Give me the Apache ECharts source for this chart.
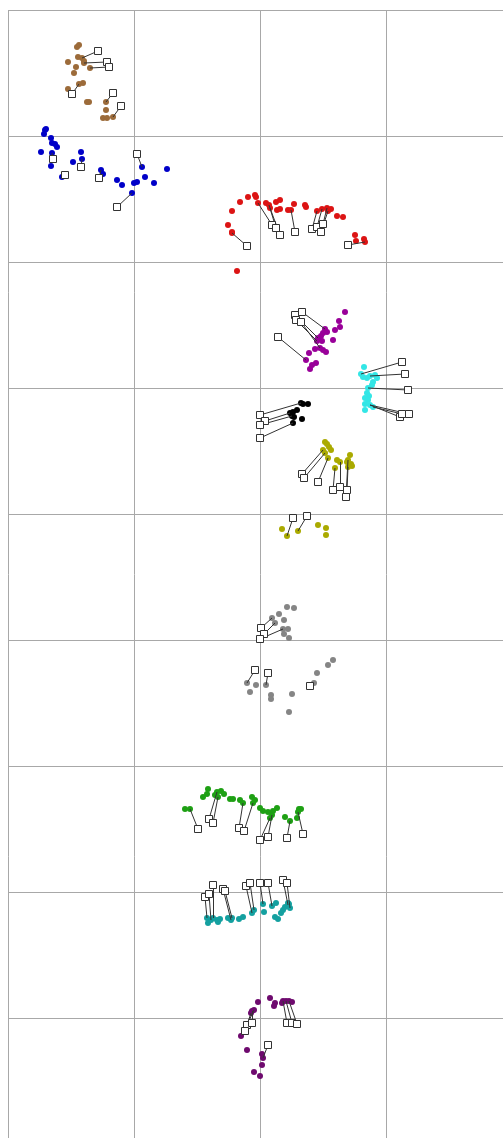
<!DOCTYPE html>
<html>
<head>
<meta charset="utf-8">
<script src="https://cdn.jsdelivr.net/npm/echarts@6/dist/echarts.min.js"></script>
<style>html,body{margin:0;padding:0;background:#fff}#main{width:503px;height:1138px}</style>
</head>
<body>
<div id="main"></div>
<script>
// Grid ticks (axis units: one cell = 126)
var xTicks = [0, 126, 252, 378, 504];
var yTicks = [0, 126, 252, 378, 504, 630, 756, 882, 1008, 1134];

// Points [x, y]; labels [x, y, index of linked point]
var brownPoints = [[69,37],[71,35],[70,47],[74,48],[76,51],[76,53],[60,52],[68,57],[82,58],[66,63],[75,73],[71,74],[60,79],[79,92],[81,92],[98,92],[98,100],[95,108],[99,108],[105,107]];
var brownLabels = [[90,41,3],[99,52,5],[101,57,8],[64,84,11],[105,83,15],[113,96,19]];

var bluePoints = [[37,120],[38,119],[36,124],[43,128],[44,133],[47,134],[49,137],[33,142],[44,143],[43,156],[73,142],[65,152],[74,149],[54,167],[93,160],[95,164],[109,170],[114,175],[134,157],[137,167],[126,173],[129,172],[146,173],[159,159],[124,183]];
var blueLabels = [[45,149,8],[73,157,12],[57,165,13],[91,168,14],[129,144,18],[109,197,24]];

var redPoints = [[240,187],[247,185],[248,187],[232,192],[224,201],[220,215],[224,222],[224,223],[250,193],[258,193],[261,195],[262,198],[268,192],[272,190],[269,200],[272,199],[280,200],[283,200],[286,194],[297,195],[298,197],[309,201],[314,199],[319,198],[320,201],[323,199],[329,206],[335,207],[347,225],[348,231],[356,229],[357,232],[229,261]];
var redLabels = [[239,236,7],[264,215,8],[268,218,10],[272,225,11],[287,222,17],[304,219,21],[309,217,22],[315,214,23],[313,222,24],[340,235,31]];

var purplePoints = [[337,302],[331,311],[332,317],[327,320],[317,319],[319,322],[315,323],[313,326],[310,328],[309,331],[314,331],[325,330],[315,340],[318,342],[312,338],[307,339],[301,343],[298,350],[308,353],[304,355],[302,359]];
var purpleLabels = [[270,327,17],[287,305,8],[294,302,4],[288,310,9],[293,312,14]];

var cyanPoints = [[356,357],[353,364],[355,367],[359,368],[362,366],[367,365],[369,368],[365,372],[364,375],[360,378],[359,383],[361,386],[357,388],[360,390],[357,394],[362,395],[365,397],[357,400]];
var cyanLabels = [[394,352,1],[397,364,4],[400,380,9],[392,407,15],[394,404,16],[401,404,15]];

var blackPoints = [[293,393],[295,394],[300,394],[289,400],[285,402],[282,403],[284,406],[286,407],[294,409],[285,413]];
var blackLabels = [[252,405,0],[257,411,5],[252,415,6],[252,428,9]];

var olivePoints = [[317,432],[319,434],[321,437],[315,440],[323,440],[317,443],[320,448],[329,450],[332,452],[327,458],[342,445],[340,450],[339,452],[343,454],[340,457],[344,456],[274,519],[279,526],[290,521],[310,515],[318,518],[318,525]];
var oliveLabels = [[294,464,3],[296,468,5],[310,472,6],[325,480,9],[332,477,8],[339,480,14],[338,487,11],[285,508,17],[299,506,18]];

var grayPoints = [[279,597],[286,598],[271,604],[264,608],[267,613],[276,610],[275,619],[280,619],[276,624],[281,628],[325,650],[320,655],[309,663],[306,673],[239,673],[242,682],[248,675],[258,675],[263,685],[263,689],[284,684],[281,702]];
var grayLabels = [[253,618,3],[256,624,4],[252,629,6],[247,660,14],[260,663,17],[302,676,13]];

var greenPoints = [[177,799],[182,799],[200,779],[199,784],[195,787],[209,782],[213,781],[216,784],[207,785],[210,787],[222,789],[225,789],[232,790],[235,793],[244,787],[247,790],[245,793],[252,798],[255,801],[260,802],[265,801],[269,798],[264,805],[262,808],[277,807],[282,811],[289,808],[291,799],[293,799],[290,802]];
var greenLabels = [[190,819,1],[201,809,5],[205,813,9],[231,818,13],[236,821,16],[252,830,23],[260,827,22],[279,828,25],[295,824,29]];

var tealPoints = [[199,908],[200,913],[203,910],[205,908],[209,910],[210,912],[212,909],[220,908],[223,910],[224,908],[231,909],[235,907],[244,903],[246,900],[255,894],[256,902],[264,896],[268,893],[267,907],[270,909],[273,903],[275,900],[277,897],[280,895],[281,894],[282,898],[280,893]];
var tealLabels = [[197,887,0],[201,884,2],[205,875,3],[215,879,8],[217,881,9],[238,876,12],[242,873,13],[252,873,14],[260,873,16],[275,870,23],[279,873,25]];

var plumPoints = [[262,988],[267,993],[266,996],[275,991],[278,991],[281,991],[284,992],[274,993],[250,992],[246,1000],[244,1001],[243,1003],[233,1026],[239,1040],[254,1044],[255,1048],[254,1055],[246,1062],[252,1066]];
var plumLabels = [[239,1015,9],[244,1013,10],[237,1021,11],[279,1013,3],[284,1013,4],[289,1014,5],[260,1035,15]];

var groups = [
  {name:'brown', color:'#9c6b3a', points:brownPoints, labels:brownLabels},
  {name:'blue', color:'#0000c8', points:bluePoints, labels:blueLabels},
  {name:'red', color:'#dc1414', points:redPoints, labels:redLabels},
  {name:'purple', color:'#990099', points:purplePoints, labels:purpleLabels},
  {name:'cyan', color:'#33e6e6', points:cyanPoints, labels:cyanLabels},
  {name:'black', color:'#000000', points:blackPoints, labels:blackLabels},
  {name:'olive', color:'#aaaa00', points:olivePoints, labels:oliveLabels},
  {name:'gray', color:'#858585', points:grayPoints, labels:grayLabels},
  {name:'green', color:'#1ea014', points:greenPoints, labels:greenLabels},
  {name:'teal', color:'#14a0a0', points:tealPoints, labels:tealLabels},
  {name:'plum', color:'#6e0a6e', points:plumPoints, labels:plumLabels}
];

var series = [];
groups.forEach(function (g) {
  series.push({
    type:'scatter', name:g.name, data:g.points, symbolSize:6, z:2,
    itemStyle:{color:g.color, opacity:1}, silent:true
  });
});
groups.forEach(function (g) {
  series.push({
    type:'lines', coordinateSystem:'cartesian2d', z:3, silent:true,
    data:g.labels.map(function (l) { return {coords:[[l[0], l[1]], g.points[l[2]]]}; }),
    lineStyle:{color:'#333333', width:1, opacity:1}
  });
});
groups.forEach(function (g) {
  series.push({
    type:'scatter', data:g.labels.map(function (l) { return [l[0], l[1]]; }),
    symbol:'rect', symbolSize:7, z:4, silent:true,
    itemStyle:{color:'#ffffff', borderColor:'#333333', borderWidth:1, opacity:1}
  });
});

var chart = echarts.init(document.getElementById('main'), null, {renderer:'canvas'});
chart.setOption({
  animation:false,
  backgroundColor:'#ffffff',
  grid:{left:8, top:10, width:504, height:1134, containLabel:false, outerBoundsMode:'none'},
  xAxis:{type:'value', min:xTicks[0], max:xTicks[xTicks.length-1], interval:126,
    axisLine:{show:false}, axisTick:{show:false}, axisLabel:{show:false},
    splitLine:{show:true, lineStyle:{color:'#a8a8a8', width:1}}},
  yAxis:{type:'value', inverse:true, min:yTicks[0], max:yTicks[yTicks.length-1], interval:126,
    axisLine:{show:false}, axisTick:{show:false}, axisLabel:{show:false},
    splitLine:{show:true, lineStyle:{color:'#a8a8a8', width:1}}},
  series:series
});
</script>
</body>
</html>
